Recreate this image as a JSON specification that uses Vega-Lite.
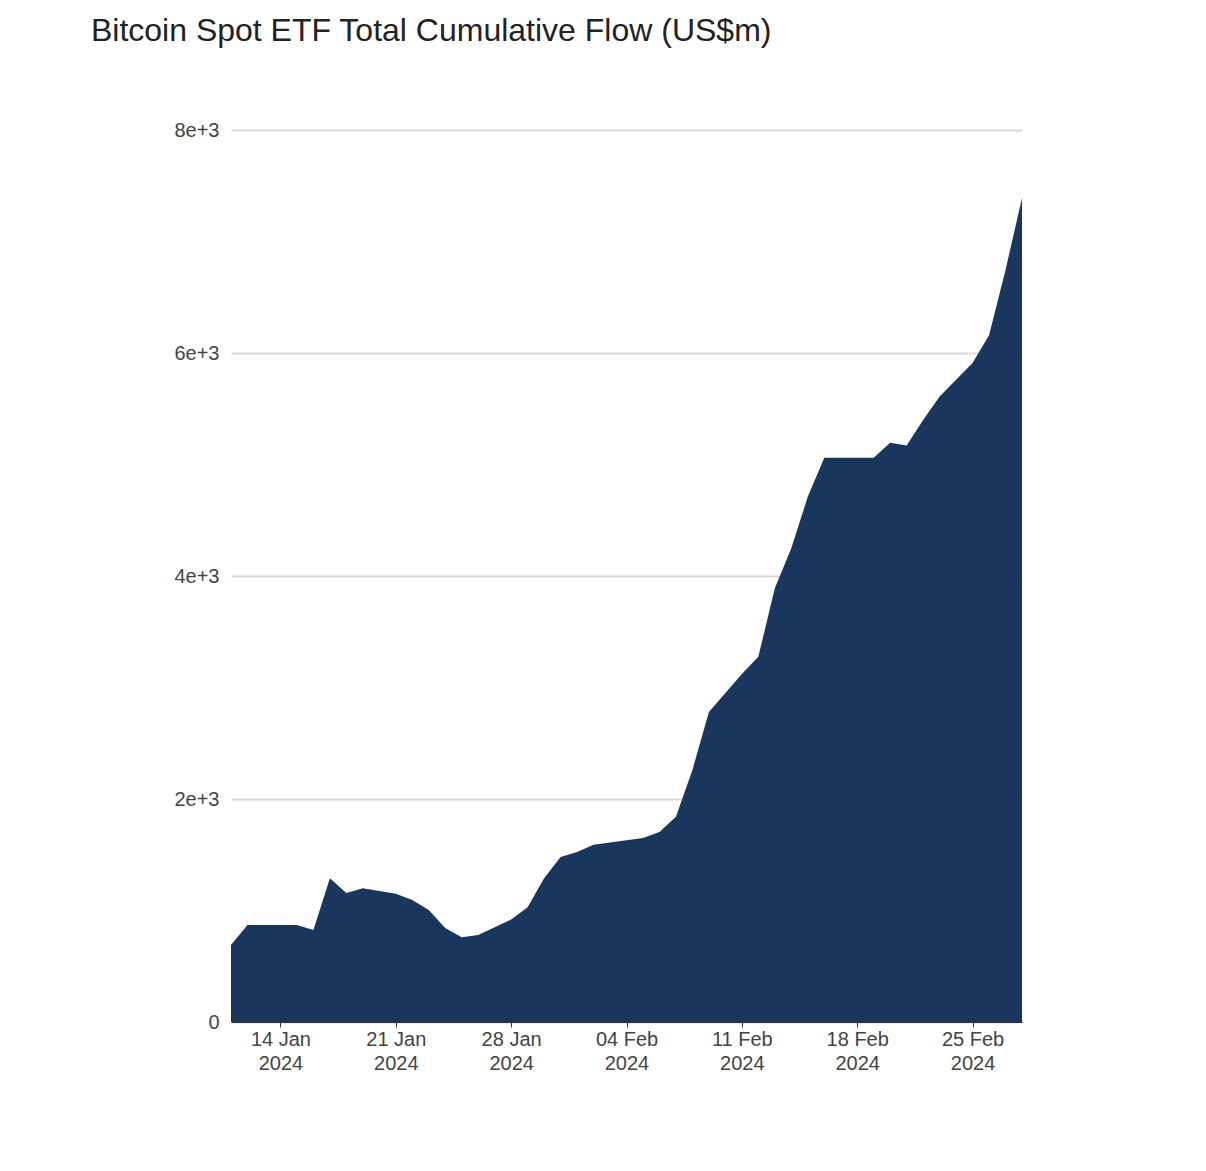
{
  "$schema": "https://vega.github.io/schema/vega-lite/v6.json",
  "width": 791,
  "height": 892,
  "autosize": "none",
  "padding": {"left": 231, "top": 130, "right": 184, "bottom": 149},
  "background": "white",
  "title": {
    "text": "Bitcoin Spot ETF Total Cumulative Flow (US$m)",
    "anchor": "start",
    "dx": -83,
    "offset": 72,
    "font": "Liberation Sans",
    "fontSize": 32,
    "fontWeight": "normal",
    "color": "#222222"
  },
  "data": {
    "values": [
      {"date": "2024-01-11", "flow": 690},
      {"date": "2024-01-12", "flow": 870},
      {"date": "2024-01-13", "flow": 870},
      {"date": "2024-01-14", "flow": 870},
      {"date": "2024-01-15", "flow": 870},
      {"date": "2024-01-16", "flow": 825},
      {"date": "2024-01-17", "flow": 1290},
      {"date": "2024-01-18", "flow": 1157},
      {"date": "2024-01-19", "flow": 1200},
      {"date": "2024-01-20", "flow": 1175},
      {"date": "2024-01-21", "flow": 1150},
      {"date": "2024-01-22", "flow": 1095},
      {"date": "2024-01-23", "flow": 1005},
      {"date": "2024-01-24", "flow": 843},
      {"date": "2024-01-25", "flow": 760},
      {"date": "2024-01-26", "flow": 780},
      {"date": "2024-01-27", "flow": 850},
      {"date": "2024-01-28", "flow": 920},
      {"date": "2024-01-29", "flow": 1030},
      {"date": "2024-01-30", "flow": 1290},
      {"date": "2024-01-31", "flow": 1480},
      {"date": "2024-02-01", "flow": 1525},
      {"date": "2024-02-02", "flow": 1590},
      {"date": "2024-02-03", "flow": 1610},
      {"date": "2024-02-04", "flow": 1630},
      {"date": "2024-02-05", "flow": 1650},
      {"date": "2024-02-06", "flow": 1705},
      {"date": "2024-02-07", "flow": 1840},
      {"date": "2024-02-08", "flow": 2260},
      {"date": "2024-02-09", "flow": 2780},
      {"date": "2024-02-10", "flow": 2950},
      {"date": "2024-02-11", "flow": 3120},
      {"date": "2024-02-12", "flow": 3275},
      {"date": "2024-02-13", "flow": 3890},
      {"date": "2024-02-14", "flow": 4250},
      {"date": "2024-02-15", "flow": 4710},
      {"date": "2024-02-16", "flow": 5060},
      {"date": "2024-02-17", "flow": 5060},
      {"date": "2024-02-18", "flow": 5060},
      {"date": "2024-02-19", "flow": 5060},
      {"date": "2024-02-20", "flow": 5195},
      {"date": "2024-02-21", "flow": 5170},
      {"date": "2024-02-22", "flow": 5400},
      {"date": "2024-02-23", "flow": 5610},
      {"date": "2024-02-24", "flow": 5760},
      {"date": "2024-02-25", "flow": 5910},
      {"date": "2024-02-26", "flow": 6160},
      {"date": "2024-02-27", "flow": 6745},
      {"date": "2024-02-28", "flow": 7390}
    ]
  },
  "mark": {"type": "area", "color": "#1b365d", "opacity": 1},
  "encoding": {
    "x": {
      "field": "date",
      "type": "temporal",
      "scale": {"type": "utc", "nice": false},
      "axis": {
        "title": null,
        "grid": false,
        "values": [
          {"year": 2024, "month": 1, "date": 14, "utc": true},
          {"year": 2024, "month": 1, "date": 21, "utc": true},
          {"year": 2024, "month": 1, "date": 28, "utc": true},
          {"year": 2024, "month": 2, "date": 4, "utc": true},
          {"year": 2024, "month": 2, "date": 11, "utc": true},
          {"year": 2024, "month": 2, "date": 18, "utc": true},
          {"year": 2024, "month": 2, "date": 25, "utc": true}
        ],
        "labelExpr": "[utcFormat(datum.value, '%d %b'), utcFormat(datum.value, '%Y')]",
        "labelFont": "Liberation Sans",
        "labelFontSize": 20,
        "labelColor": "#444444",
        "labelLineHeight": 24,
        "domainColor": "#333333",
        "tickColor": "#333333",
        "tickSize": 5
      }
    },
    "y": {
      "field": "flow",
      "type": "quantitative",
      "scale": {"domain": [0, 8000]},
      "axis": {
        "title": null,
        "values": [0, 2000, 4000, 6000, 8000],
        "format": ",",
        "domain": false,
        "ticks": false,
        "labelPadding": 12,
        "labelFont": "Liberation Sans",
        "labelFontSize": 20,
        "labelColor": "#444444",
        "gridColor": "#d9d9d9",
        "gridWidth": 2
      }
    }
  },
  "config": {"view": {"stroke": null}}
}
